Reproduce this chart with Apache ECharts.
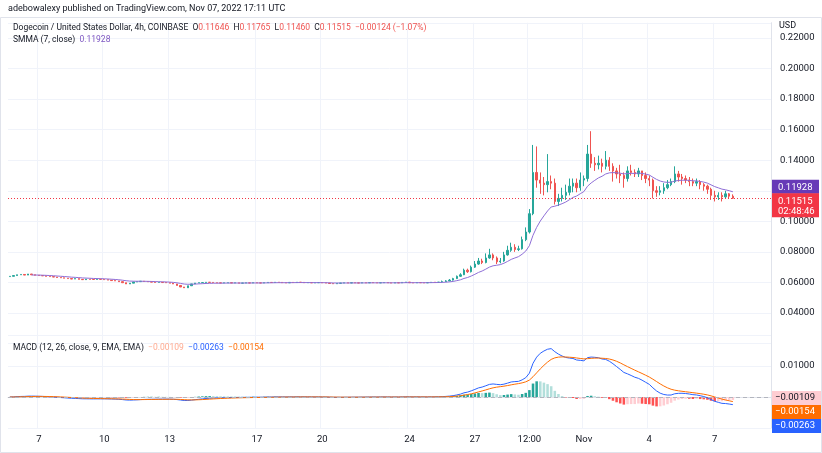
<!DOCTYPE html>
<html><head><meta charset="utf-8">
<script src="https://cdn.jsdelivr.net/npm/echarts@6/dist/echarts.min.js"></script>
<style>html,body{margin:0;padding:0;background:#fff}#c{width:822px;height:453px}</style>
</head><body><div id="c"></div>
<script>
// closes (4h candles), segment by segment
const closesA = [0.0640,0.0645,0.0650,0.0652,0.0648,0.0655,0.0650,0.0647,0.0645,
  0.0643,0.0640,0.0638,0.0635,0.0632,0.0630,0.0628,0.0625,0.0622,0.0625,0.0620,0.0618,0.0622,0.0620,0.0619,0.0621,0.0620,0.0618,
  0.0615,0.0612,0.0610,0.0605,0.0598,0.0590,0.0595,0.0603,0.0605,0.0608,0.0606,0.0604,0.0602,0.0600,0.0601,0.0599,0.0598,0.0595,0.0590,
  0.0580,0.0570,0.0565,0.0578,0.0590,0.0596,0.0598];
const closesB = [0.0599,0.0601,0.0600,0.0598,0.0597,0.0596,0.0597,0.0598,0.0596,0.0597,
  0.0595,0.0596,0.0597,0.0596,0.0598,0.0597,0.0596,0.0598,0.0600,0.0599,
  0.0601,0.0600,0.0598,0.0597,0.0600,0.0599,0.0601,0.0600,0.0598,0.0599,
  0.0597,0.0598,0.0599,0.0597,0.0596,0.0593,0.0591,0.0594,0.0596,0.0597,
  0.0596,0.0598,0.0597,0.0596,0.0598,0.0597,0.0599,0.0598,0.0597,0.0598,
  0.0599,0.0597,0.0596,0.0598,0.0597,0.0600,0.0602,0.0598,0.0597,0.0599,
  0.0598,0.0597,0.0599,0.0601,0.0600,0.0602];
const closesC = [0.0605,0.0610,0.0615,0.0625,0.0640,0.0650,0.0680,0.0670,0.0700,0.0720,0.0740,0.0730,0.0760,0.0780,0.0760,0.0735,0.0740,0.0780,0.0810,0.0830,0.0815,0.0820,0.0880,0.0930,0.1050,
  0.1320,0.1270,0.1250,0.1240,0.1260,0.1250,0.1130,0.1150,0.1170,0.1190,0.1230,0.1250,0.1220,0.1270,0.1280,0.1440,0.1380,0.1370,0.1380,0.1360,0.1400,0.1360,0.1330,0.1310,0.1300,0.1280,0.1330,0.1320,0.1310,0.1330,0.1300,0.1280,0.1270,0.1200,0.1190,0.1200,0.1220,0.1240,0.1260,0.1310,0.1290,0.1280,0.1270,0.1260,0.1250,0.1260,0.1240,0.1230,0.1210,0.1170,0.1160,0.1170,0.1160,0.1180,0.11646,0.11515];
const highsC = [0.0612,0.0615,0.0622,0.0630,0.0645,0.0660,0.0690,0.0690,0.0710,0.0740,0.0760,0.0755,0.0790,0.0820,0.0790,0.0770,0.0760,0.0800,0.0840,0.0860,0.0850,0.0840,0.0900,0.0960,0.1080,
  0.1500,0.1490,0.1320,0.1290,0.1440,0.1300,0.1280,0.1180,0.1220,0.1240,0.1280,0.1280,0.1280,0.1320,0.1300,0.1500,0.1590,0.1420,0.1430,0.1410,0.1460,0.1420,0.1380,0.1350,0.1370,0.1320,0.1360,0.1370,0.1340,0.1350,0.1330,0.1320,0.1300,0.1280,0.1230,0.1230,0.1250,0.1270,0.1280,0.1360,0.1330,0.1310,0.1300,0.1290,0.1280,0.1280,0.1270,0.1250,0.1240,0.1220,0.1200,0.1190,0.1190,0.1200,0.1185,0.11765];
const lowsC = [0.0598,0.0603,0.0608,0.0612,0.0622,0.0636,0.0648,0.0662,0.0665,0.0695,0.0715,0.0720,0.0725,0.0755,0.0745,0.0720,0.0725,0.0735,0.0775,0.0800,0.0800,0.0805,0.0815,0.0870,0.0920,
  0.1040,0.1220,0.1180,0.1170,0.1190,0.1210,0.1110,0.1100,0.1130,0.1140,0.1170,0.1190,0.1190,0.1200,0.1230,0.1260,0.1350,0.1330,0.1340,0.1320,0.1340,0.1330,0.1260,0.1280,0.1250,0.1220,0.1260,0.1300,0.1290,0.1290,0.1270,0.1250,0.1230,0.1150,0.1160,0.1170,0.1180,0.1210,0.1230,0.1250,0.1260,0.1240,0.1250,0.1230,0.1230,0.1230,0.1210,0.1200,0.1180,0.1140,0.1130,0.1140,0.1130,0.1150,0.1150,0.11460];
const firstOpen = 0.0638;
const tickIdx = [8,26,44,68,86,110,128,143,158,176,194];
const tickLabels = ['7','10','13','17','20','24','27','12:00','Nov','4','7'];
const priceTicks = [0.04,0.06,0.08,0.10,0.12,0.14,0.16,0.18,0.20,0.22];
const lastPrice = 0.11515, smmaLast = 0.11928;
const macdLabels = ['−0.00109','−0.00154','−0.00263'];

const closes = closesA.concat(closesB, closesC);
const nA = closesA.length + closesB.length;
const cats = []; const ohlc = [];
const PAD = 10;
for (let i = 0; i < closes.length + PAD; i++) cats.push(String(i));
for (let i = 0; i < closes.length; i++) {
  const o = i === 0 ? firstOpen : closes[i-1], c = closes[i];
  let h = Math.max(o,c), l = Math.min(o,c);
  if (i >= nA) { h = Math.max(h, highsC[i-nA]); l = Math.min(l, lowsC[i-nA]); }
  ohlc.push([o,c,l,h]);
}
const smma = []; let s = null;
for (let i = 0; i < closes.length; i++) {
  if (i < 6) { smma.push(null); continue; }
  if (s === null) { s = closes.slice(0,7).reduce((a,b)=>a+b,0)/7; }
  else s = (s*6 + closes[i])/7;
  smma.push(s);
}
function ema(arr, n){ const k=2/(n+1); const out=[]; let e=arr[0]; for(let i=0;i<arr.length;i++){ e = i===0?arr[0]:arr[i]*k+e*(1-k); out.push(e);} return out; }
const e12 = ema(closes,12), e26 = ema(closes,26);
const macd = closes.map((_,i)=>e12[i]-e26[i]);
const sig = ema(macd,9);
const hist = macd.map((m,i)=>m-sig[i]);
const histData = hist.map((h,i)=>{
  const prev = i>0?hist[i-1]:0;
  let col;
  if (h>=0) col = h>=prev ? '#26a69a' : '#b2dfdb';
  else col = h<=prev ? '#ff5252' : '#ffcdd2';
  return {value:h, itemStyle:{color:col}};
});
const tickSet = new Set(tickIdx);
const showTick = (i)=>tickSet.has(i);

const chart = echarts.init(document.getElementById('c'));
const F = 'Roboto, "Noto Sans", sans-serif';
const FS = 9.5;
chart.setOption({
  animation:false,
  textStyle:{fontFamily:F},
  grid:[{left:8,right:51,top:22.75,bottom:109.5},{left:8,right:51,top:335,height:93}],
  xAxis:[
    {type:'category',gridIndex:0,data:cats,boundaryGap:true,axisLine:{show:false},axisTick:{show:false},axisLabel:{show:false},
     splitLine:{show:true,interval:(i)=>showTick(i),lineStyle:{color:'#f0f3fa'}}},
    {type:'category',gridIndex:1,data:cats,boundaryGap:true,axisLine:{show:true,lineStyle:{color:'#e0e3eb'}},axisTick:{show:false},
     axisLabel:{interval:(i)=>showTick(i),formatter:(v)=>tickLabels[tickIdx.indexOf(+v)],color:'#131722',fontSize:FS,margin:7},
     splitLine:{show:true,interval:(i)=>showTick(i),lineStyle:{color:'#f0f3fa'}}}
  ],
  yAxis:[
    {type:'value',gridIndex:0,position:'right',min:0.02,max:0.23,interval:0.02,
     axisLine:{show:true,lineStyle:{color:'#e0e3eb'}},axisTick:{show:false},
     axisLabel:{color:'#131722',fontSize:FS,margin:9,showMinLabel:false,showMaxLabel:false,formatter:(v)=>priceTicks.some(t=>Math.abs(t-v)<1e-9)?v.toFixed(5):''},
     splitLine:{lineStyle:{color:'#f0f3fa'}}},
    {type:'value',gridIndex:1,position:'right',min:-0.01,max:0.02,interval:0.01,
     axisLine:{show:true,lineStyle:{color:'#e0e3eb'}},axisTick:{show:false},
     axisLabel:{color:'#131722',fontSize:FS,margin:9,showMaxLabel:false,formatter:(v)=>v.toFixed(5)},
     splitLine:{lineStyle:{color:'#f0f3fa'}}}
  ],
  series:[
    {type:'candlestick',xAxisIndex:0,yAxisIndex:0,data:ohlc,barMaxWidth:2.6,
     itemStyle:{color:'#26a69a',color0:'#ef5350',borderColor:'#26a69a',borderColor0:'#ef5350',borderWidth:1},
     markLine:{symbol:'none',silent:true,precision:5,data:[{yAxis:lastPrice}],
       lineStyle:{color:'#f23645',type:[1,2],width:1},label:{show:false}}},
    {type:'line',xAxisIndex:0,yAxisIndex:0,data:smma,showSymbol:false,lineStyle:{color:'#8e6ed6',width:1}},
    {type:'bar',xAxisIndex:1,yAxisIndex:1,data:histData,barWidth:'70%',
     markLine:{symbol:'none',silent:true,data:[{yAxis:0}],lineStyle:{color:'#b2b5be',type:[4,3],width:1},label:{show:false}}},
    {type:'line',xAxisIndex:1,yAxisIndex:1,data:macd,showSymbol:false,lineStyle:{color:'#2962ff',width:1}},
    {type:'line',xAxisIndex:1,yAxisIndex:1,data:sig,showSymbol:false,lineStyle:{color:'#ff6d00',width:1}}
  ]
});
const yS = chart.convertToPixel({yAxisIndex:0}, smmaLast);
const yP = chart.convertToPixel({yAxisIndex:0}, lastPrice);
const txt = (x,y,t,fill)=>({type:'text',x:x,y:y,z:100,style:{text:t,fill:fill,font:FS+'px '+F}});
chart.setOption({graphic:[
  {type:'text',left:8,top:4,style:{text:'adebowalexy published on TradingView.com, Nov 07, 2022 17:11 UTC',fill:'#131722',font:'9px '+F}},
  {type:'rect',z:-10,shape:{x:0.5,y:17.5,width:821,height:435},style:{fill:'none',stroke:'#e0e3eb'}},
  {type:'text',left:13,top:23,style:{rich:{a:{fill:'#131722',fontSize:8.5,fontFamily:F},r:{fill:'#ef5350',fontSize:8.5,fontFamily:F}},
    text:'{a|Dogecoin / United States Dollar, 4h, COINBASE  O}{r|0.11646}{a|  H}{r|0.11765}{a|  L}{r|0.11460}{a|  C}{r|0.11515  −0.00124 (−1.07%)}'}},
  {type:'text',left:13,top:35,style:{rich:{a:{fill:'#131722',fontSize:8.5,fontFamily:F},p:{fill:'#7e57c2',fontSize:8.5,fontFamily:F}},text:'{a|SMMA (7, close)  }{p|0.11928}'}},
  {type:'text',left:13,top:343,style:{rich:{a:{fill:'#131722',fontSize:8.5,fontFamily:F},r:{fill:'#ffab91',fontSize:8.5,fontFamily:F},b:{fill:'#2962ff',fontSize:8.5,fontFamily:F},o:{fill:'#ff6d00',fontSize:8.5,fontFamily:F}},
    text:'{a|MACD (12, 26, close, 9, EMA, EMA)  }{r|−0.00109}{a|  }{b|−0.00263}{a|  }{o|−0.00154}'}},
  {type:'text',left:779,top:21,style:{text:'USD',fill:'#131722',font:'9px '+F}},
  {type:'rect',z:99,shape:{x:772,y:yS-12,width:47,height:14},style:{fill:'#673ab7'}},
  txt(778,yS-9,smmaLast.toFixed(5),'#fff'),
  {type:'rect',z:99,shape:{x:772,y:yP-5,width:47,height:24},style:{fill:'#f23645'}},
  txt(778,yP-2,lastPrice.toFixed(5),'#fff'),
  txt(778,yP+8,'02:48:46','#fff'),
  {type:'rect',z:99,shape:{x:772,y:391,width:49,height:14},style:{fill:'#ffcdd2'}},
  txt(775,393,macdLabels[0],'#131722'),
  {type:'rect',z:99,shape:{x:772,y:405,width:49,height:14},style:{fill:'#ff6d00'}},
  txt(775,407,macdLabels[1],'#fff'),
  {type:'rect',z:99,shape:{x:772,y:419,width:49,height:14},style:{fill:'#2962ff'}},
  txt(775,421,macdLabels[2],'#fff')
]});
</script></body></html>
